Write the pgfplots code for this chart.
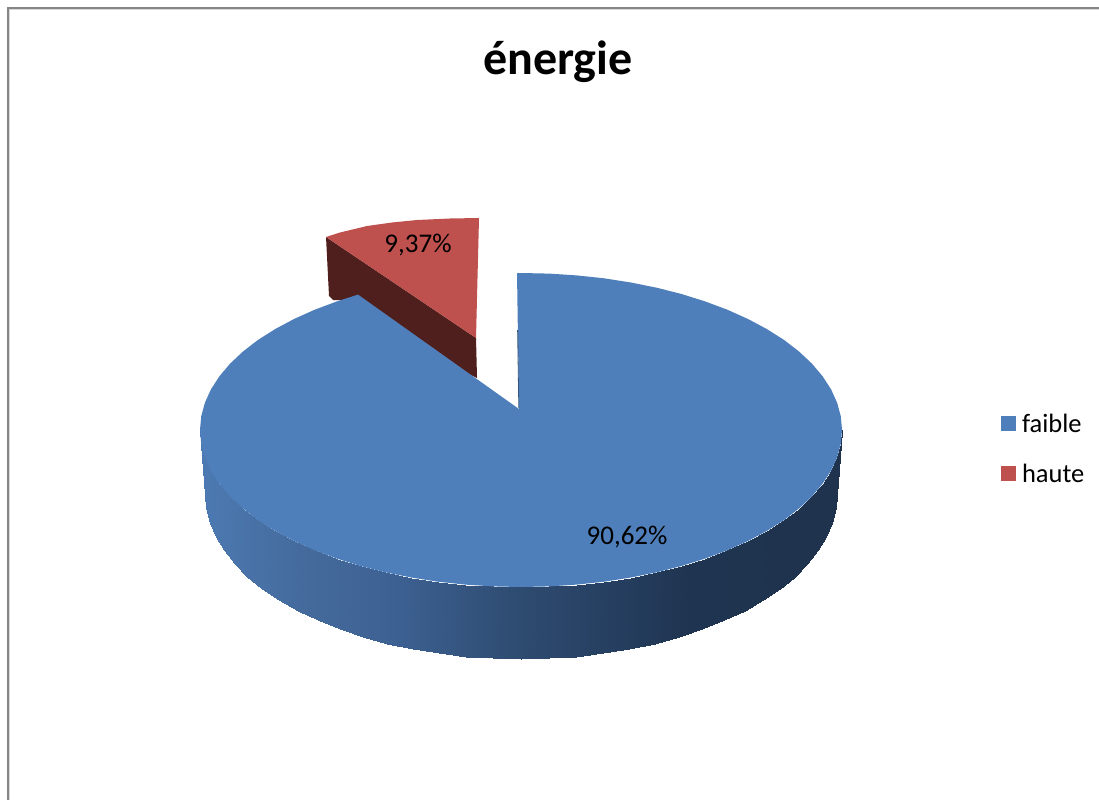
\documentclass[border=0pt]{standalone}
\usepackage{pgfplots}
\pgfplotsset{compat=1.18}
\usepackage{fontspec}
\setmainfont{Carlito}
\definecolor{bleu}{RGB}{79,127,187}
\definecolor{rouge}{RGB}{190,80,77}
\definecolor{rougefonce}{RGB}{79,31,29}
\definecolor{cadre}{RGB}{134,134,134}
\definecolor{cadreclair}{RGB}{215,215,215}
\begin{document}
\begin{tikzpicture}
\useasboundingbox (0,0) rectangle (1099pt,800pt);
\begin{axis}[
  at={(0,0)}, anchor=south west,
  scale only axis, width=1099pt, height=800pt,
  xmin=0, xmax=1099, ymin=0, ymax=800,
  y dir=reverse, hide axis, clip=true,
  view={0}{90},
  colormap={flanc}{
    rgb255(200)=(76,122,178)
    rgb255(300)=(69,107,157)
    rgb255(400)=(60,96,145)
    rgb255(520)=(46,75,112)
    rgb255(620)=(37,62,95)
    rgb255(690)=(31,52,80)
    rgb255(842)=(31,51,78)
  },
  legend style={
    at={(axis cs:1001,411)}, anchor=north west, draw=none, fill=none,
    font=\fontsize{26.5}{28}\selectfont, row sep=24pt,
    inner sep=0pt, outer sep=0pt,
    nodes={inner ysep=3pt, inner xsep=6pt, anchor=west},
  },
  legend image code/.code={\fill[#1] (0pt,-7.5pt) rectangle (15pt,7.5pt);},
  legend cell align=left,
]
\addlegendimage{fill=bleu, draw=none}
\addlegendentry{faible}
\addlegendimage{fill=rouge, draw=none}
\addlegendentry{haute}

% outer frame of the chart area
\addplot[draw=cadreclair, line width=1pt, forget plot] coordinates {(1099,10) (9.5,10) (9.5,800)};
\addplot[draw=cadre, line width=2pt, forget plot] coordinates {(1099,8.5) (7.5,8.5) (7.5,800)};

% detached slice: inner wall, then its top face
\addplot[fill=rougefonce, draw=none, forget plot] coordinates {
  (326,237) (476,338) (477,378) (440,360) (358,300) (333,300) (329,296)} -- cycle;
\addplot[fill=rouge, draw=none, forget plot] coordinates {
  (326,237) (340,232.5) (367,226) (392,222.5) (417,220) (450,218.5) (479,218) (476,338)} -- cycle;

% rim of the large slice, shaded along x
\addplot3[surf, shader=interp, mesh/rows=2, point meta=x, forget plot] table {
x y z
842.0 430.0 0
840.8 443.7 0
837.1 457.3 0
831.1 470.6 0
822.6 483.7 0
811.9 496.4 0
799.0 508.5 0
784.0 520.1 0
766.9 530.9 0
748.0 541.0 0
727.3 550.3 0
705.1 558.6 0
681.5 566.0 0
656.7 572.3 0
630.8 577.5 0
604.1 581.7 0
576.7 584.6 0
549.0 586.4 0
521.0 587.0 0
493.0 586.4 0
465.3 584.6 0
437.9 581.7 0
411.2 577.5 0
385.3 572.3 0
360.5 566.0 0
336.9 558.6 0
314.7 550.3 0
294.0 541.0 0
275.1 530.9 0
258.0 520.1 0
243.0 508.5 0
230.1 496.4 0
219.4 483.7 0
210.9 470.6 0
204.9 457.3 0
201.2 443.7 0
200.0 430.0 0
837.0 494.0 0
835.8 508.4 0
832.2 522.7 0
826.3 536.7 0
817.9 550.4 0
807.4 563.8 0
794.7 576.5 0
779.9 588.7 0
763.1 600.0 0
744.5 610.7 0
724.1 620.4 0
702.2 629.2 0
679.0 636.9 0
654.6 643.6 0
629.1 649.0 0
602.8 653.4 0
575.8 656.5 0
548.6 658.4 0
521.0 659.0 0
493.4 658.4 0
466.2 656.5 0
439.2 653.4 0
412.9 649.0 0
387.4 643.6 0
363.0 636.9 0
339.8 629.2 0
317.9 620.4 0
297.5 610.7 0
278.9 600.0 0
262.1 588.7 0
247.3 576.5 0
234.6 563.8 0
224.1 550.4 0
215.7 536.7 0
209.8 522.7 0
206.2 508.4 0
205.0 494.0 0
};

% top face of the large slice
\addplot[fill=bleu, draw=none, forget plot] coordinates {
  (519,409) (517,273) (521,273)
  (549.0,273.6) (576.7,275.4) (604.1,278.3) (630.8,282.5) (656.7,287.7) (681.5,294.0)
  (705.1,301.4) (727.3,309.7) (748.0,319.0) (766.9,329.1) (784.0,339.9) (799.0,351.5)
  (811.9,363.6) (822.6,376.3) (831.1,389.4) (837.1,402.7) (840.8,416.3) (842.0,430.0)
  (840.8,443.7) (837.1,457.3) (831.1,470.6) (822.6,483.7) (811.9,496.4) (799.0,508.5)
  (784.0,520.1) (766.9,530.9) (748.0,541.0) (727.3,550.3) (705.1,558.6) (681.5,566.0)
  (656.7,572.3) (630.8,577.5) (604.1,581.7) (576.7,584.6) (549.0,586.4) (521.0,587.0)
  (493.0,586.4) (465.3,584.6) (437.9,581.7) (411.2,577.5) (385.3,572.3) (360.5,566.0)
  (336.9,558.6) (314.7,550.3) (294.0,541.0) (275.1,530.9) (258.0,520.1) (243.0,508.5)
  (230.1,496.4) (219.4,483.7) (210.9,470.6) (204.9,457.3) (201.2,443.7) (200.0,430.0)
  (201.2,416.3) (204.9,402.7) (210.9,389.4) (219.4,376.3) (230.1,363.6) (243.0,351.5)
  (258.0,339.9) (275.1,329.1) (294.0,319.0) (314.7,309.7) (336.9,301.4) (358.0,294.6)
} -- cycle;
% thin inner wall visible along the vertical cut
\addplot[draw=bleu!65!black, line width=0.8pt, forget plot] coordinates {(517.6,330) (518.8,408)};

% title and value labels
\node[font=\fontsize{48}{50}\selectfont\bfseries, anchor=center] at (axis cs:558,62) {énergie};
\node[font=\fontsize{27}{29}\selectfont, anchor=center] at (axis cs:418,245) {9,37\%};
\node[font=\fontsize{27}{29}\selectfont, anchor=center] at (axis cs:627,537) {90,62\%};
\end{axis}
\end{tikzpicture}
\end{document}
